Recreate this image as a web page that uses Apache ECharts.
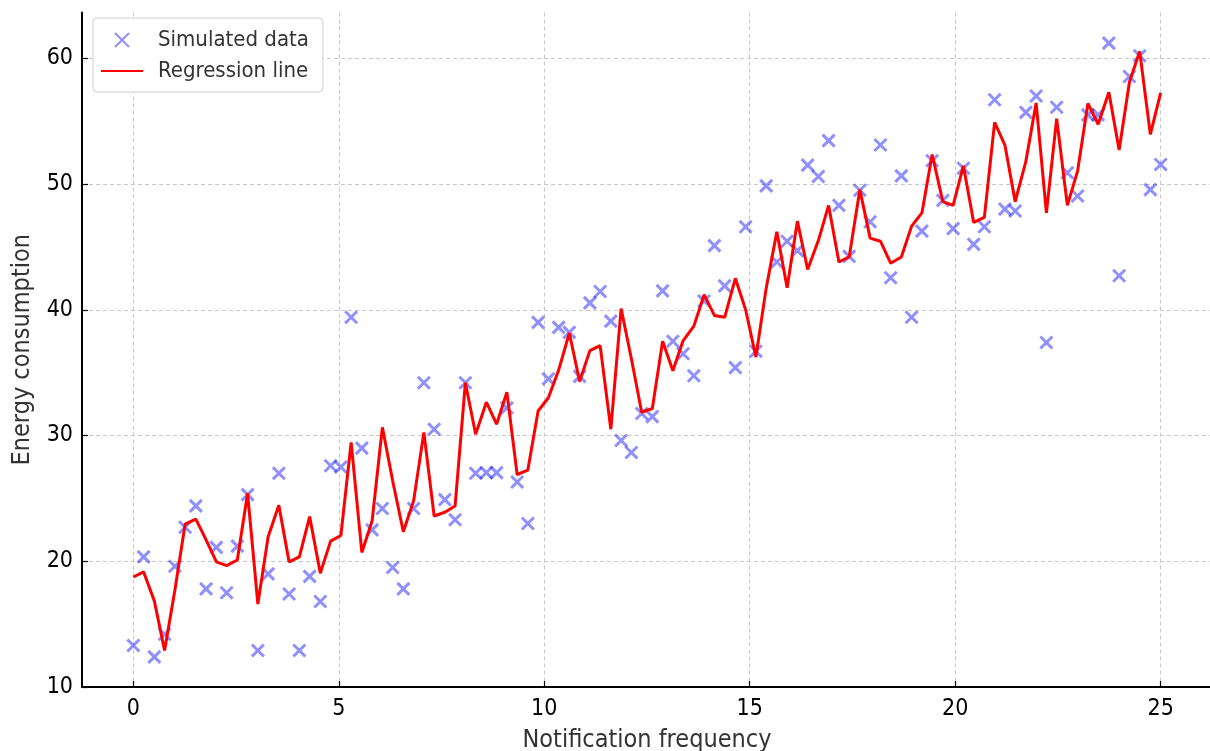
<!DOCTYPE html>
<html>
<head>
<meta charset="utf-8">
<script src="https://cdn.jsdelivr.net/npm/echarts@6/dist/echarts.min.js"></script>
<style>
html,body{margin:0;padding:0;background:#fff;}
#chart{width:1210px;height:751px;}
</style>
</head>
<body>
<div id="chart"></div>
<script>
// Notification frequency (x values shared by both series)
const notificationFrequency = [
  0.00, 0.25, 0.51, 0.76, 1.01, 1.26, 1.52, 1.77, 2.02, 2.27,
  2.53, 2.78, 3.03, 3.28, 3.54, 3.79, 4.04, 4.29, 4.55, 4.80,
  5.05, 5.30, 5.56, 5.81, 6.06, 6.31, 6.57, 6.82, 7.07, 7.32,
  7.58, 7.83, 8.08, 8.33, 8.59, 8.84, 9.09, 9.34, 9.60, 9.85,
  10.10, 10.35, 10.61, 10.86, 11.11, 11.36, 11.62, 11.87, 12.12, 12.37,
  12.63, 12.88, 13.13, 13.38, 13.64, 13.89, 14.14, 14.39, 14.65, 14.90,
  15.15, 15.40, 15.66, 15.91, 16.16, 16.41, 16.67, 16.92, 17.17, 17.42,
  17.68, 17.93, 18.18, 18.43, 18.69, 18.94, 19.19, 19.44, 19.70, 19.95,
  20.20, 20.45, 20.71, 20.96, 21.21, 21.46, 21.72, 21.97, 22.22, 22.47,
  22.73, 22.98, 23.23, 23.48, 23.74, 23.99, 24.24, 24.49, 24.75, 25.00
];

// Simulated data (energy consumption)
const simulatedEnergy = [
  13.3, 20.35, 12.4, 14.2, 19.6, 22.7, 24.4, 17.8, 21.1, 17.5,
  21.2, 25.3, 12.9, 19.0, 27.0, 17.4, 12.9, 18.8, 16.8, 27.6,
  27.5, 39.4, 29.0, 22.5, 24.2, 19.5, 17.8, 24.2, 34.2, 30.5,
  24.9, 23.3, 34.2, 27.0, 27.05, 27.05, 32.2, 26.3, 23.0, 39.0,
  34.5, 38.6, 38.2, 34.7, 40.55, 41.45, 39.1, 29.6, 28.65, 31.75,
  31.5, 41.5, 37.5, 36.5, 34.75, 40.7, 45.1, 41.9, 35.4, 46.6,
  36.7, 49.85, 43.8, 45.45, 44.7, 51.5, 50.6, 53.45, 48.3, 44.25,
  49.5, 47.0, 53.1, 42.55, 50.65, 39.4, 46.25, 51.85, 48.7, 46.45,
  51.25, 45.2, 46.6, 56.7, 48.0, 47.85, 55.7, 57.0, 37.4, 56.1,
  50.9, 49.05, 55.5, 55.5, 61.2, 42.7, 58.55, 60.2, 49.55, 51.55
];

// Regression line (predicted energy consumption)
const regressionEnergy = [
  18.75, 19.15, 16.85, 12.9, 17.7, 22.95, 23.35, 21.7, 19.95, 19.65,
  20.1, 25.4, 16.6, 21.95, 24.45, 19.95, 20.35, 23.55, 19.05, 21.6,
  22.05, 29.45, 20.7, 23.2, 30.65, 26.4, 22.35, 24.8, 30.25, 23.6,
  23.9, 24.4, 34.2, 30.1, 32.65, 30.9, 33.45, 26.9, 27.25, 31.95,
  33.0, 35.2, 38.15, 34.3, 36.75, 37.15, 30.5, 40.1, 36.1, 31.85,
  32.15, 37.5, 35.15, 37.55, 38.7, 41.2, 39.55, 39.4, 42.5, 40.0,
  36.25, 41.7, 46.2, 41.75, 47.05, 43.2, 45.5, 48.3, 43.8, 44.2,
  49.55, 45.7, 45.45, 43.7, 44.2, 46.65, 47.7, 52.35, 48.6, 48.3,
  51.45, 46.95, 47.35, 54.9, 53.1, 48.6, 51.8, 56.45, 47.7, 55.2,
  48.3, 51.05, 56.4, 54.75, 57.3, 52.7, 58.1, 60.55, 53.95, 57.25
];

const xTickLabels = [0, 5, 10, 15, 20, 25];
const yTickLabels = [10, 20, 30, 40, 50, 60];

const scatterData = notificationFrequency.map((x, i) => [x, simulatedEnergy[i]]);
const lineData = notificationFrequency.map((x, i) => [x, regressionEnergy[i]]);

const FONT = '"DejaVu Sans Condensed", "DejaVu Sans", sans-serif';
const X_ICON = 'path://M0,0L10,10M10,0L0,10';
const gridDash = {color: '#c8c8c8', width: 1, type: [4, 3]};

const chart = echarts.init(document.getElementById('chart'), null, {renderer: 'canvas'});
chart.setOption({
  animation: false,
  backgroundColor: '#ffffff',
  grid: {left: 82, top: 12.5, width: 1130, bottom: 64, containLabel: false, outerBoundsMode: 'none'},
  xAxis: {
    type: 'value',
    min: -1.25,
    max: 26.25,
    splitNumber: 5,
    name: 'Notification frequency',
    nameLocation: 'middle',
    nameGap: 41,
    nameTextStyle: {fontFamily: FONT, fontSize: 25, color: '#333'},
    axisLine: {show: true, onZero: false, lineStyle: {color: '#000', width: 2}},
    axisTick: {show: true, inside: true, length: 6, customValues: xTickLabels, lineStyle: {color: '#000', width: 1.2}},
    axisLabel: {
      fontFamily: FONT, fontSize: 23, color: '#000', margin: 11,
      customValues: xTickLabels,
      formatter: v => String(v)
    },
    splitLine: {show: true, lineStyle: gridDash}
  },
  yAxis: {
    type: 'value',
    min: 10,
    max: 63.64,
    splitNumber: 5,
    name: 'Energy consumption',
    nameLocation: 'middle',
    nameGap: 47,
    nameTextStyle: {fontFamily: FONT, fontSize: 25, color: '#333'},
    axisLine: {show: true, onZero: false, lineStyle: {color: '#000', width: 2}},
    axisTick: {show: true, inside: true, length: 6, customValues: yTickLabels, lineStyle: {color: '#000', width: 1.2}},
    axisLabel: {
      fontFamily: FONT, fontSize: 23, color: '#000', margin: 9,
      customValues: yTickLabels,
      formatter: v => String(v)
    },
    splitLine: {show: true, lineStyle: gridDash}
  },
  legend: {
    orient: 'vertical',
    left: 93,
    top: 18,
    padding: [11, 14, 10, 7],
    backgroundColor: '#ffffff',
    borderColor: '#d0d0d0',
    borderWidth: 1,
    borderRadius: 4,
    itemWidth: 42,
    itemHeight: 14,
    itemGap: 9,
    textStyle: {fontFamily: FONT, fontSize: 22, color: '#333', padding: [0, 0, 0, 10]},
    data: [
      {name: 'Simulated data', icon: X_ICON},
      {name: 'Regression line', itemStyle: {color: 'rgba(0,0,0,0)', borderWidth: 0, opacity: 0}}
    ]
  },
  series: [
    {
      name: 'Simulated data',
      type: 'scatter',
      data: scatterData,
      symbol: X_ICON,
      symbolSize: 12,
      symbolKeepAspect: true,
      itemStyle: {color: 'rgba(0,0,0,0)', borderColor: 'rgba(0,0,255,0.55)', borderWidth: 3},
      z: 2
    },
    {
      name: 'Regression line',
      type: 'line',
      data: lineData,
      symbol: 'none',
      lineStyle: {color: '#ff0000', width: 3},
      itemStyle: {color: '#ff0000'},
      z: 3
    }
  ]
});
</script>
</body>
</html>
